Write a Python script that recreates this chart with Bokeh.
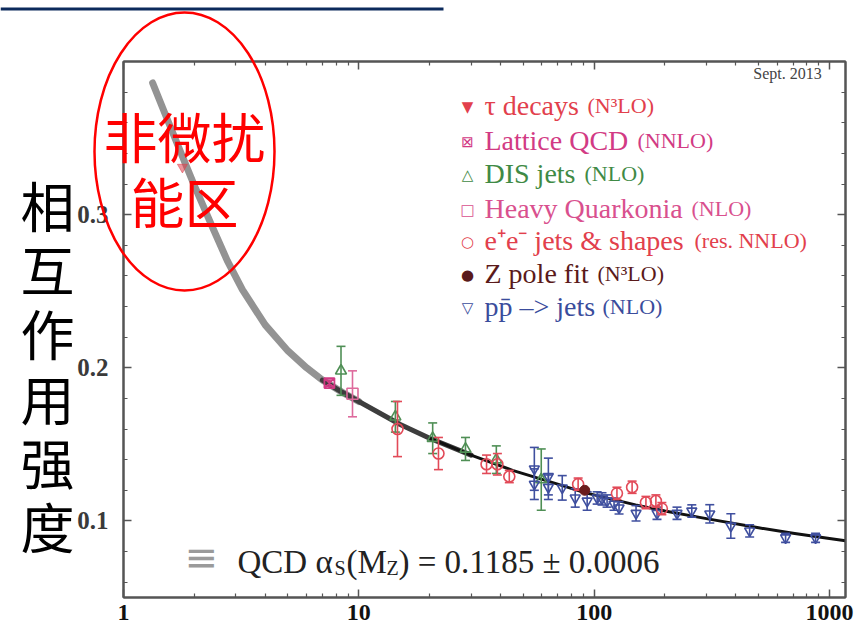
import numpy as np
from bokeh.plotting import figure
from bokeh.layouts import column
from bokeh.models import (Label, LinearAxis, LogAxis, FixedTicker, PrintfTickFormatter,
                          CustomJSTickFormatter, Range1d)
from bokeh.embed import file_html
from bokeh.resources import INLINE

# ---------------- data ----------------
curve_q = [1.33, 1.5, 1.78, 2.0, 2.4, 2.76, 3.2, 4.0, 5.0, 6.0, 7.0, 8.5, 10, 15, 20, 30,
           45, 70, 91.2, 150, 200, 300, 500, 700, 1000, 1170]
curve_a = [0.386, 0.366, 0.338, 0.319, 0.291, 0.270, 0.251, 0.228, 0.211, 0.200, 0.192,
           0.184, 0.178, 0.163, 0.154, 0.143, 0.133, 0.124, 0.1185, 0.1105, 0.1065,
           0.1015, 0.0955, 0.0920, 0.0885, 0.0870]

tau_q = [1.78]
tau_a = [0.331]

lat_q = [7.5]
lat_a = [0.190]
lat_e = [0.002]

dis_q = [8.4, 14.3, 20.6, 28.4, 38.4, 59.6]
dis_a = [0.198, 0.168, 0.154, 0.147, 0.140, 0.127]
dis_e = [0.016, 0.010, 0.010, 0.0075, 0.009, 0.020]

hq_q = [9.4]
hq_a = [0.183]
hq_e = [0.015]

ee_q = [14.6, 21.8, 34.9, 38.8, 43.6, 85.5, 125, 145, 166, 183, 194]
ee_a = [0.160, 0.144, 0.137, 0.137, 0.129, 0.124, 0.118, 0.122, 0.112, 0.113, 0.108]
ee_e = [0.018, 0.0105, 0.006, 0.007, 0.004, 0.004, 0.004, 0.004, 0.004, 0.004, 0.004]

z_q = [91.2]
z_a = [0.120]
z_e = [0.001]

pp_q = [55.7, 55.7, 63.9, 63.9, 73.2, 83.1, 93.4, 103, 108, 113.5, 121.5, 127.6,
        150.7, 185, 225, 260, 310, 381, 458, 651, 873]
pp_a = [0.134, 0.124, 0.129, 0.122, 0.1216, 0.115, 0.113, 0.115, 0.1144, 0.113, 0.111,
        0.1085, 0.105, 0.105, 0.105, 0.1065, 0.1046, 0.0967, 0.0935, 0.089, 0.089]
pp_e = [0.014, 0.010, 0.012, 0.008, 0.008, 0.006, 0.006, 0.004, 0.004, 0.004, 0.004,
        0.004, 0.005, 0.004, 0.004, 0.004, 0.006, 0.008, 0.004, 0.003, 0.003]

x_major = [1, 10, 100, 1000]
y_major = [0.1, 0.2, 0.3]

legend_main = ["τ decays", "Lattice QCD", "DIS jets", "Heavy Quarkonia",
               "e⁺e⁻  jets & shapes", "Z pole fit", "pp̄ –> jets"]
legend_sub = ["(N³LO)", "(NNLO)", "(NLO)", "(NLO)", "(res. NNLO)", "(N³LO)", "(NLO)"]
legend_sym = ["▼", "⊠", "△", "□", "○", "●", "▽"]
legend_col = ["#e2404c", "#d23a84", "#3f8a45", "#d9508e", "#e2404c", "#5a1a1a", "#3a4c9c"]

ylabel_chars = ["相", "互", "作", "用", "强", "度"]
region_lines = ["非微扰", "能区"]

# ---------------- main figure ----------------
p = figure(width=856, height=630, x_axis_type="log",
           x_range=Range1d(1, 1170), y_range=Range1d(0.05, 0.4),
           min_border_left=123, min_border_right=11, min_border_top=61, min_border_bottom=33,
           output_backend="svg", toolbar_location=None)
p.grid.visible = False
p.outline_line_color = "#555555"
p.outline_line_width = 2
p.background_fill_color = "white"
p.border_fill_color = "white"

x_minor = [m * d for d in (1, 10, 100) for m in range(2, 10)]
y_minor = [round(0.06 + 0.02 * i, 2) for i in range(17)]

top_axis = LogAxis()
right_axis = LinearAxis()
p.add_layout(top_axis, "above")
p.add_layout(right_axis, "right")

for ax in p.xaxis:
    ax.ticker = FixedTicker(ticks=x_major, minor_ticks=x_minor)
    ax.formatter = PrintfTickFormatter(format="%d")
for ax in p.yaxis:
    ax.ticker = FixedTicker(ticks=y_major, minor_ticks=y_minor)

for ax in list(p.xaxis) + list(p.yaxis):
    ax.axis_line_color = "#555555"
    ax.axis_line_width = 2
    ax.major_tick_line_color = "#555555"
    ax.minor_tick_line_color = "#555555"
    ax.major_tick_line_width = 1.5
    ax.minor_tick_line_width = 1.2
    ax.major_tick_in = 8
    ax.major_tick_out = 0
    ax.minor_tick_in = 4
    ax.minor_tick_out = 0
    ax.major_label_text_font = "Liberation Serif"
    ax.major_label_text_font_style = "bold"

p.below[0].major_label_text_font_size = "24px"
p.below[0].major_label_text_color = "#111111"
p.below[0].major_label_standoff = 7
p.left[0].major_label_text_font_size = "25px"
p.left[0].major_label_text_color = "#3a3a3a"
p.left[0].major_label_standoff = 15
for ax in (top_axis, right_axis):
    ax.formatter = CustomJSTickFormatter(code="return ''")
    ax.major_label_standoff = 0

# curve
cq = np.array(curve_q)
ca = np.array(curve_a)
m1 = cq <= 10
m2 = (cq >= 7.0) & (cq <= 30)
m3 = cq >= 20
p.line(cq[m1], ca[m1], line_width=7, line_color="#878787", line_alpha=0.9,
       line_cap="round", line_join="round")
p.line(cq[m2], ca[m2], line_width=5, line_color="#3d3d3d", line_cap="round",
       line_join="round")
p.line(cq[m3], ca[m3], line_width=3, line_color="#111111", line_cap="round",
       line_join="round")

# tau marker (partly veiled, as in the picture)
p.scatter(tau_q, tau_a, marker="inverted_triangle", size=10, fill_color="#e2404c",
          line_color="#e2404c", fill_alpha=0.55, line_alpha=0.55)


def errbars(q, a, e, color):
    q = np.array(q, dtype=float)
    a = np.array(a, dtype=float)
    e = np.array(e, dtype=float)
    p.segment(q, a - e, q, a + e, line_color=color, line_width=1.6)
    p.scatter(q, a - e, marker="dash", size=9, line_color=color, line_width=1.6)
    p.scatter(q, a + e, marker="dash", size=9, line_color=color, line_width=1.6)


errbars(dis_q, dis_a, dis_e, "#4f8f55")
p.scatter(dis_q, dis_a, marker="triangle", size=11, fill_color=None,
          line_color="#4f8f55", line_width=1.6)

errbars(lat_q, lat_a, lat_e, "#d23a84")
p.scatter(lat_q, lat_a, marker="square_x", size=10, fill_color=None,
          line_color="#d23a84", line_width=1.8)

errbars(hq_q, hq_a, hq_e, "#de6a9c")
p.scatter(hq_q, hq_a, marker="square", size=11, fill_color=None,
          line_color="#de6a9c", line_width=1.6)

errbars(pp_q, pp_a, pp_e, "#3f4f9f")
p.scatter(pp_q, pp_a, marker="inverted_triangle", size=10, fill_color=None,
          line_color="#3f4f9f", line_width=1.6)

errbars(ee_q, ee_a, ee_e, "#e24a58")
p.scatter(ee_q, ee_a, marker="circle", size=11, fill_color=None,
          line_color="#e24a58", line_width=1.6)

errbars(z_q, z_a, z_e, "#6a1c1c")
p.scatter(z_q, z_a, marker="circle", size=10, fill_color="#6a1c1c", line_color="#6a1c1c")


def lab(fig, x, y, text, size, color, font="Liberation Serif", align="left",
        baseline="alphabetic", units="canvas"):
    fig.add_layout(Label(x=x, y=y, x_units=units, y_units=units, text=text,
                         text_font=font, text_font_size=size, text_color=color,
                         text_align=align, text_baseline=baseline))


lab(p, 787, 73, "Sept. 2013", "16px", "#444444", align="center", baseline="middle")

row_base = [105, 140, 173, 208, 240, 273, 306]
sub_x = [587, 637, 584, 691, 694, 597, 602]
for i in range(7):
    lab(p, 467, row_base[i] + 1, legend_sym[i], "15px", legend_col[i], font="DejaVu Sans",
        align="center", baseline="middle")
    lab(p, 484, row_base[i], legend_main[i], "28px", legend_col[i])
    lab(p, sub_x[i], row_base[i], legend_sub[i], "22px", legend_col[i])

# bottom formula
lab(p, 201, 556, "≡", "40px", "#9a9a9a", font="DejaVu Sans", align="center", baseline="middle")
lab(p, 237, 561, "QCD α", "33px", "#222222")
lab(p, 334, 567, "S", "20px", "#222222")
lab(p, 346, 561, "(M", "33px", "#222222")
lab(p, 386, 567, "Z", "20px", "#222222")
lab(p, 398, 561, ") = 0.1185 ± 0.0006", "33px", "#222222")

# ---------------- overlay (page-pixel space, for items outside the plot frame) ----------
ov = figure(width=856, height=630, x_range=Range1d(0, 856), y_range=Range1d(630, 0),
            x_axis_location=None, y_axis_location=None, min_border=0,
            min_border_left=0, min_border_right=0, min_border_top=0, min_border_bottom=0,
            output_backend="svg", toolbar_location=None,
            styles={"position": "absolute", "top": "0px", "left": "0px",
                    "width": "856px", "height": "630px", "pointer-events": "none"})
ov.grid.visible = False
ov.outline_line_color = None
ov.background_fill_color = None
ov.border_fill_color = None
ov.background_fill_alpha = 0
ov.border_fill_alpha = 0
for fig in (p, ov):
    if "frame_align" in fig.properties():
        fig.frame_align = False

# title rule
ov.quad(left=[0], right=[443], top=[7], bottom=[10], fill_color="#0c2a5c", line_color=None)

# red ellipse + text
ov.ellipse(x=[184], y=[151], width=[180], height=[278], fill_color=None,
           line_color="#ff0000", line_width=2.5)
for i, t in enumerate(region_lines):
    lab(ov, 184, 135 + 65 * i, t, "54px", "#ff0000", font="Noto Sans CJK SC",
        align="center", baseline="middle", units="data")

# Chinese y label
for i, ch in enumerate(ylabel_chars):
    lab(ov, 47, 204 + 64.2 * i, ch, "54px", "#000000", font="Noto Sans CJK SC",
        align="center", baseline="middle", units="data")

layout = column(p, ov)
open("out.html", "w").write(file_html(layout, INLINE))
